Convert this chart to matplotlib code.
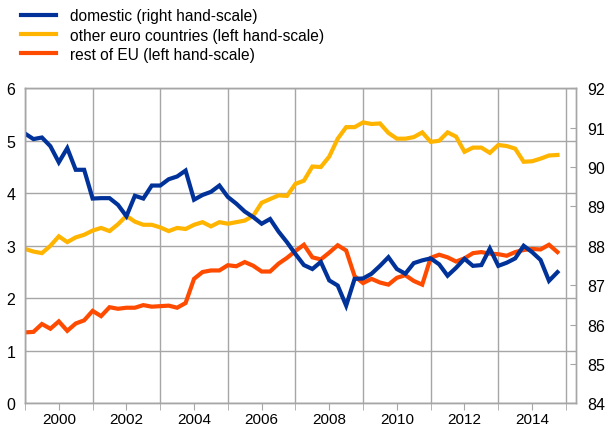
import numpy as np
import matplotlib
matplotlib.use("Agg")
from matplotlib import pyplot as plt

plt.rcParams['font.family'] = ['Liberation Sans', 'DejaVu Sans']

# quarterly observations, 1999 Q1 - 2014 Q4
quarters = 1999 + np.arange(64) * 0.25

# domestic share (right hand-scale)
domestic = [90.85, 90.71, 90.75, 90.53, 90.12, 90.48, 89.93, 89.93,
            89.20, 89.21, 89.21, 89.04, 88.75, 89.27, 89.20, 89.53,
            89.53, 89.69, 89.76, 89.91, 89.17, 89.29, 89.37, 89.53,
            89.24, 89.07, 88.87, 88.73, 88.56, 88.68, 88.36, 88.09,
            87.79, 87.51, 87.41, 87.59, 87.12, 86.99, 86.48, 87.16,
            87.17, 87.29, 87.49, 87.71, 87.41, 87.29, 87.56, 87.63,
            87.68, 87.53, 87.24, 87.44, 87.67, 87.49, 87.51, 87.93,
            87.49, 87.57, 87.68, 88.00, 87.84, 87.64, 87.11, 87.33]

# other euro area countries (left hand-scale)
other_euro = [2.94, 2.89, 2.86, 3.00, 3.18, 3.07, 3.16, 3.21,
              3.29, 3.34, 3.28, 3.41, 3.57, 3.46, 3.40, 3.40,
              3.35, 3.28, 3.34, 3.32, 3.40, 3.45, 3.37, 3.45,
              3.42, 3.45, 3.48, 3.57, 3.82, 3.89, 3.96, 3.95,
              4.18, 4.24, 4.51, 4.50, 4.70, 5.04, 5.26, 5.26,
              5.35, 5.32, 5.33, 5.15, 5.04, 5.04, 5.07, 5.16,
              4.98, 5.00, 5.16, 5.08, 4.79, 4.87, 4.87, 4.77,
              4.92, 4.90, 4.85, 4.60, 4.61, 4.66, 4.72, 4.73]

# rest of EU (left hand-scale)
rest_eu = [1.35, 1.36, 1.51, 1.42, 1.56, 1.38, 1.52, 1.58,
           1.76, 1.66, 1.83, 1.80, 1.82, 1.82, 1.87, 1.84,
           1.85, 1.86, 1.82, 1.91, 2.37, 2.50, 2.53, 2.53,
           2.63, 2.61, 2.69, 2.62, 2.51, 2.51, 2.66, 2.77,
           2.90, 3.02, 2.78, 2.74, 2.87, 3.01, 2.91, 2.42,
           2.29, 2.37, 2.30, 2.26, 2.39, 2.44, 2.33, 2.26,
           2.77, 2.83, 2.78, 2.70, 2.76, 2.86, 2.88, 2.85,
           2.84, 2.81, 2.88, 2.92, 2.94, 2.93, 3.02, 2.88]

year_labels = [2000, 2002, 2004, 2006, 2008, 2010, 2012, 2014]

blue = '#003299'
yellow = '#FFB400'
orange = '#FF4B00'
grid_grey = '#A6A6A6'

fig = plt.figure(figsize=(6.07, 4.27), dpi=100)
ax = fig.add_axes([0.0412, 0.0532, 0.9078, 0.7377])
ax2 = ax.twinx()

l_other, = ax.plot(quarters, other_euro, color=yellow, lw=3,
                   solid_joinstyle='miter')
l_rest, = ax.plot(quarters, rest_eu, color=orange, lw=3,
                  solid_joinstyle='miter')
l_dom, = ax2.plot(quarters, domestic, color=blue, lw=3,
                  solid_joinstyle='miter')

ax.set_xlim(1999, 2015.3)
ax.set_ylim(0, 6)
ax2.set_ylim(84, 92)

ax.set_yticks(range(0, 7))
ax2.set_yticks(range(84, 93))
ax.set_xticks(year_labels)
ax.set_xticks(range(1999, 2016), minor=True)

ax.grid(True, which='major', axis='y', color=grid_grey, lw=1)
ax.grid(True, which='minor', axis='x', color=grid_grey, lw=1)
ax.set_axisbelow(True)

for a in (ax, ax2):
    for s in a.spines.values():
        s.set_color(grid_grey)
        s.set_linewidth(1)

ax.tick_params(axis='y', length=0, pad=7, labelsize=11.5)
ax.tick_params(axis='x', which='both', length=5, color=grid_grey,
               direction='out', pad=1, labelsize=11)
ax2.tick_params(axis='y', length=4, color=grid_grey, direction='in',
                pad=8, labelsize=11.5)

fig.legend([l_dom, l_other, l_rest],
           ['domestic (right hand-scale)',
            'other euro countries (left hand-scale)',
            'rest of EU (left hand-scale)'],
           loc='upper left', bbox_to_anchor=(0.025, 0.993), frameon=False,
           fontsize=11.2, handlelength=2.2, handletextpad=0.9,
           labelspacing=0.28, borderaxespad=0)

fig.savefig('out.png', dpi=100)
